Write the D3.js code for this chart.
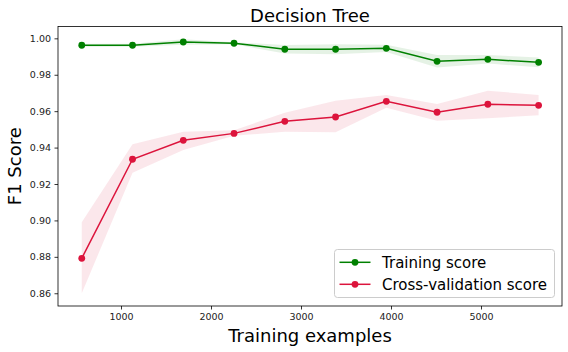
<!DOCTYPE html>
<html><head><meta charset="utf-8">
<script src="https://cdn.jsdelivr.net/npm/d3@7"></script>
<style>
html,body{margin:0;padding:0;background:#fff;}
svg{display:block;font-family:"DejaVu Sans",sans-serif;}
</style></head>
<body>
<svg id="c" width="568" height="352"></svg>
<script>
const trainSizes = [564, 1128, 1692, 2256, 2820, 3384, 3948, 4512, 5076, 5640];
const trainMean  = [0.9962, 0.9962, 0.9980, 0.9973, 0.9940, 0.9940, 0.9945, 0.9874, 0.9885, 0.9868];
const trainUpper = [0.9970, 0.9970, 0.9995, 0.9979, 0.9963, 0.9968, 0.9965, 0.9908, 0.9908, 0.9895];
const trainLower = [0.9954, 0.9954, 0.9965, 0.9967, 0.9917, 0.9912, 0.9925, 0.9840, 0.9862, 0.9841];
const cvMean  = [0.8792, 0.9336, 0.9440, 0.9478, 0.9544, 0.9568, 0.9654, 0.9594, 0.9638, 0.9632];
const cvUpper = [0.8990, 0.9418, 0.9487, 0.9495, 0.9592, 0.9657, 0.9689, 0.9639, 0.9712, 0.9689];
const cvLower = [0.8600, 0.9262, 0.9387, 0.9465, 0.9487, 0.9484, 0.9619, 0.9548, 0.9561, 0.9577];
const xTicks = [1000, 2000, 3000, 4000, 5000];
const yTicks = [0.86, 0.88, 0.90, 0.92, 0.94, 0.96, 0.98, 1.00];
const seriesNames = ["Training score", "Cross-validation score"];

const L = 58, R = 562, T = 26.5, B = 306;
const svg = d3.select("#c");
const x = d3.scaleLinear().domain([300, 5900]).range([L, R]);
const y = d3.scaleLinear().domain([0.853, 1.0065]).range([B, T]);

const series = [
  {name: seriesNames[0], mean: trainMean, up: trainUpper, lo: trainLower, color: "#008000"},
  {name: seriesNames[1], mean: cvMean, up: cvUpper, lo: cvLower, color: "#dc143c"}
];

const area = d3.area().x(d => x(d.x)).y0(d => y(d.lo)).y1(d => y(d.up));
const line = d3.line().x(d => x(d.x)).y(d => y(d.v));

series.forEach(s => {
  const pts = trainSizes.map((v, i) => ({x: v, v: s.mean[i], up: s.up[i], lo: s.lo[i]}));
  svg.append("path").datum(pts).attr("d", area).attr("fill", s.color).attr("fill-opacity", 0.1);
});
series.forEach(s => {
  const pts = trainSizes.map((v, i) => ({x: v, v: s.mean[i]}));
  svg.append("path").datum(pts).attr("d", line).attr("fill", "none").attr("stroke", s.color).attr("stroke-width", 1.5);
  svg.selectAll(null).data(pts).enter().append("circle")
    .attr("cx", d => x(d.x)).attr("cy", d => y(d.v)).attr("r", 3.4).attr("fill", s.color);
});

// axes
const xAxis = d3.axisBottom(x).tickValues(xTicks).tickSize(3.5).tickPadding(3.5).tickFormat(d3.format("d"));
const yAxis = d3.axisLeft(y).tickValues(yTicks).tickSize(3.5).tickPadding(3.5).tickFormat(d3.format(".2f"));
const gx = svg.append("g").attr("transform", `translate(0,${B})`).call(xAxis);
const gy = svg.append("g").attr("transform", `translate(${L},0)`).call(yAxis);
[gx, gy].forEach(g => {
  g.select(".domain").remove();
  g.selectAll("line").attr("stroke", "#000").attr("stroke-width", 0.8);
  g.selectAll("text").attr("font-size", "9.5px").attr("fill", "#222").attr("font-family", "DejaVu Sans");
});
svg.append("rect").attr("x", L).attr("y", T).attr("width", R - L).attr("height", B - T)
  .attr("fill", "none").attr("stroke", "#000").attr("stroke-width", 0.8);

// title and labels
svg.append("text").attr("x", (L + R) / 2).attr("y", 21.5).attr("text-anchor", "middle")
  .attr("font-size", "18px").attr("fill", "#000").text("Decision Tree");
svg.append("text").attr("x", (L + R) / 2).attr("y", 342).attr("text-anchor", "middle")
  .attr("font-size", "18px").attr("fill", "#000").text("Training examples");
svg.append("text").attr("transform", `translate(21,${(T + B) / 2}) rotate(-90)`).attr("text-anchor", "middle")
  .attr("font-size", "18px").attr("fill", "#000").text("F1 Score");

// legend
const lg = svg.append("g");
lg.append("rect").attr("x", 334.5).attr("y", 249.5).attr("width", 220).attr("height", 48)
  .attr("rx", 3).attr("fill", "#fff").attr("fill-opacity", 0.8).attr("stroke", "#ccc").attr("stroke-width", 1);
series.forEach((s, i) => {
  const cy = 262.3 + i * 22;
  lg.append("line").attr("x1", 339.5).attr("x2", 370.5).attr("y1", cy).attr("y2", cy)
    .attr("stroke", s.color).attr("stroke-width", 1.5);
  lg.append("circle").attr("cx", 355).attr("cy", cy).attr("r", 3.4).attr("fill", s.color);
  lg.append("text").attr("x", 382).attr("y", cy + 5.3).attr("font-size", "15px").attr("fill", "#000").text(s.name);
});
</script>
</body></html>
